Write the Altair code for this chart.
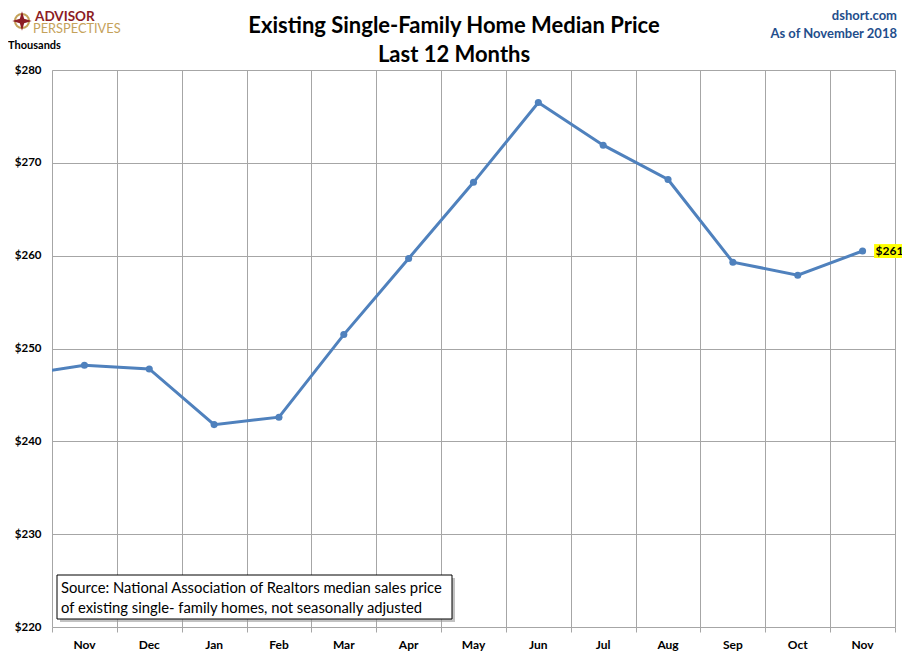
import altair as alt
import pandas as pd

# ---- data ----
months = ["Nov", "Dec", "Jan", "Feb", "Mar", "Apr", "May", "Jun", "Jul", "Aug", "Sep", "Oct", "Nov"]
prices = [248.2, 247.8, 241.8, 242.6, 251.5, 259.7, 267.9, 276.5, 271.9, 268.2, 259.3, 257.9, 260.5]
prior_month = "Oct"
prior_price = 247.1  # Oct 2017, only partly visible at the left edge
y_ticks = [220, 230, 240, 250, 260, 270, 280]

idx = [-1] + list(range(len(months)))
df = pd.DataFrame({"i": idx, "month": [prior_month] + months, "price": [prior_price] + prices})
shown = df[df["i"] >= 0]
last = pd.DataFrame({"i": [len(months) - 1], "price": [prices[-1]],
                     "label": ["$" + str(int(prices[-1] + 0.5))]})

W, H = 843, 557
FONT = "Lato"
BLUE = "#4F81BD"
GRID = "#A6A6A6"

bounds = [v - 0.5 for v in range(len(months) + 1)]
x_scale = alt.Scale(domain=[-0.5, len(months) - 0.5], nice=False, zero=False)
y_scale = alt.Scale(domain=[220, 280], nice=False, zero=False)

x_axis = alt.Axis(
    values=bounds, title=None, domain=False, labels=False,
    grid=True, gridColor=GRID, gridWidth=1,
    ticks=True, tickColor=GRID, tickSize=5,
)
y_axis = alt.Axis(
    values=y_ticks, title=None, domain=False, ticks=False,
    grid=True, gridColor=GRID, gridWidth=1,
    labelExpr="'$' + datum.value",
    labelFont=FONT, labelFontSize=11.5, labelFontWeight="bold", labelColor="#000000",
    labelPadding=11,
)

line = alt.Chart(df).mark_line(
    color=BLUE, strokeWidth=3, clip=True,
    point=alt.OverlayMarkDef(filled=True, color=BLUE, size=50, opacity=1),
).encode(
    x=alt.X("i:Q", scale=x_scale, axis=x_axis),
    y=alt.Y("price:Q", scale=y_scale, axis=y_axis),
)

month_labels = alt.Chart(shown).mark_text(
    baseline="middle", align="center", font=FONT, fontSize=12, fontWeight="bold", color="#000000",
).encode(x="i:Q", y=alt.value(H + 18), text="month:N")

hl_box = alt.Chart(last).mark_point(
    shape="M-1,-0.48H1V0.48H-1Z", filled=True, color="#FFFF00", opacity=1,
    size=841, xOffset=26,
).encode(x="i:Q", y="price:Q")
hl_text = alt.Chart(last).mark_text(
    align="left", baseline="middle", dx=13, font=FONT, fontSize=12,
    fontWeight="bold", color="#000000",
).encode(x="i:Q", y="price:Q", text="label:N")

# ---- annotations (pixel positions relative to the plot area) ----
one = pd.DataFrame({"a": [0]})

def txt(s, x, y, size, color="#000000", weight="normal", align="left", font=FONT):
    return alt.Chart(one).mark_text(
        text=s, align=align, baseline="alphabetic", font=font, fontSize=size,
        fontWeight=weight, color=color,
    ).encode(x=alt.value(x), y=alt.value(y))

shadow = alt.Chart(one).mark_rect(color="#9A9A9A", opacity=0.6).encode(
    x=alt.value(8), x2=alt.value(403), y=alt.value(508), y2=alt.value(552))
box = alt.Chart(one).mark_rect(fill="#FFFFFF", stroke="#000000", strokeWidth=1).encode(
    x=alt.value(5), x2=alt.value(400), y=alt.value(505), y2=alt.value(549))
src1 = txt("Source: National Association of Realtors median sales price", 9, 523, 14.8)
src2 = txt("of existing single- family homes, not seasonally adjusted", 9, 543, 14.8)

title1 = txt("Existing Single-Family Home Median Price", 402, -37, 22, weight="bold", align="center")
title2 = txt("Last 12 Months", 402, -8, 22, weight="bold", align="center")
thousands = txt("Thousands", -44, -21, 11, weight="bold")
dshort = txt("dshort.com", 845, -50, 13, color="#1F4E8C", weight="bold", align="right")
asof = txt("As of November 2018", 845, -32, 13, color="#1F4E8C", weight="bold", align="right")
adv = txt("ADVISOR", -17, -49, 13.5, color="#8C1C24", weight="bold")
persp = txt("PERSPECTIVES", -19, -37, 12.8, color="#C5A25A", weight="normal")
ring = alt.Chart(one).mark_point(shape="circle", filled=False, color="#C5A25A", strokeWidth=2,
                                 size=200, opacity=1).encode(x=alt.value(-30), y=alt.value(-49))
star = alt.Chart(one).mark_point(
    shape="M0,-1L0.22,-0.22L1,0L0.22,0.22L0,1L-0.22,0.22L-1,0L-0.22,-0.22Z",
    filled=True, color="#8C1C24", size=380, opacity=1).encode(x=alt.value(-30), y=alt.value(-49))

chart = alt.layer(
    line, month_labels, hl_box, hl_text, shadow, box, src1, src2,
    title1, title2, thousands, dshort, asof, adv, persp, ring, star,
).properties(
    width=W, height=H,
    autosize=alt.AutoSizeParams(type="none"),
    padding={"left": 44, "top": 62, "right": 7, "bottom": 26},
).configure_view(strokeWidth=0).configure(background="#FFFFFF")

chart.save("out.html", embed_options={"renderer": "svg", "actions": False})
